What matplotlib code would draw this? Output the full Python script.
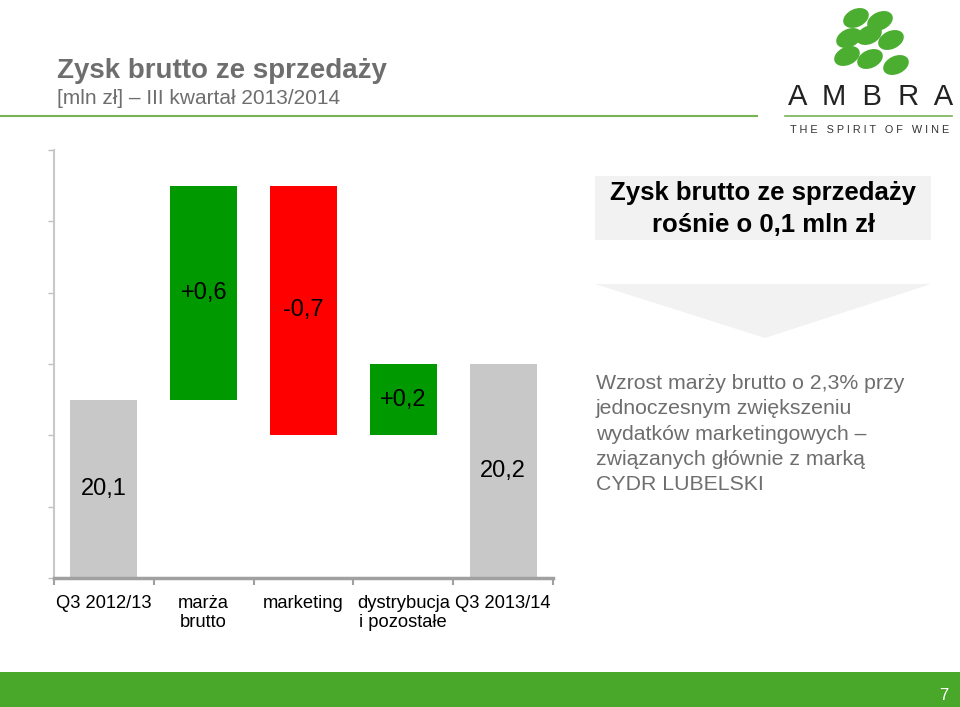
import numpy as np
import matplotlib
matplotlib.use("Agg")
import matplotlib.pyplot as plt
from matplotlib.patches import Rectangle, Polygon, Ellipse

plt.rcParams['font.family'] = ['Liberation Sans', 'DejaVu Sans']

# data
categories = ["Q3 2012/13", "marża\nbrutto", "marketing", "dystrybucja\ni pozostałe", "Q3 2013/14"]
values = [20.1, 0.6, -0.7, 0.2, 20.2]
kinds = ["total", "delta", "delta", "delta", "total"]
labels = ["20,1", "+0,6", "-0,7", "+0,2", "20,2"]
y_base = 19.6
y_top = 20.8

GRAY_BAR = "#c8c8c8"
UP = "#009900"
DOWN = "#ff0000"
TXT_GRAY = "#6e6e6e"
LINE_GREEN = "#77b255"
BAND_GREEN = "#49a72a"

fig = plt.figure(figsize=(9.6, 7.07), dpi=100)

# overlay for slide decorations, pixel coords
bg = fig.add_axes([0, 0, 1, 1])
bg.set_xlim(0, 960)
bg.set_ylim(707, 0)
bg.axis("off")

bg.text(57, 71, "Zysk brutto ze sprzedaży", fontsize=20, fontweight="bold",
        color=TXT_GRAY, va="center", ha="left")
bg.text(57, 99, "[mln zł] – III kwartał 2013/2014", fontsize=15,
        color=TXT_GRAY, va="center", ha="left")
bg.plot([0, 757], [115.5, 115.5], color=LINE_GREEN, lw=1.5)

# logo
for cx, cy in [(856, 18), (880, 21), (849, 38), (869, 35), (891, 40),
               (847, 56), (870, 59), (896, 65)]:
    bg.add_patch(Ellipse((cx, cy), 27, 18, angle=-25, color="#4cae31", lw=0))
bg.text(871, 97, "A  M  B  R  A", fontsize=21, ha="center", va="center",
        color="#222222", fontweight="light")
bg.plot([785, 952], [115.5, 115.5], color=LINE_GREEN, lw=1.2)
bg.text(870, 130, "T H E   S P I R I T   O F   W I N E", fontsize=7.8,
        ha="center", va="center", color="#333333")

# summary box
bg.add_patch(Rectangle((595, 176), 336, 64, color="#f2f2f2", lw=0))
bg.text(763, 209, "Zysk brutto ze sprzedaży\nrośnie o 0,1 mln zł", fontsize=18.5,
        fontweight="bold", ha="center", va="center", linespacing=1.45)
bg.add_patch(Polygon([(595, 284), (931, 284), (765, 338)], closed=True,
                     color="#f2f2f2", lw=0))
bg.text(596, 434, "Wzrost marży brutto o 2,3% przy\njednoczesnym zwiększeniu\n"
        "wydatków marketingowych –\nzwiązanych głównie z marką\nCYDR LUBELSKI",
        fontsize=15.3, color=TXT_GRAY, ha="left", va="center", linespacing=1.42)

# footer band
bg.add_patch(Rectangle((0, 672), 960, 35, color=BAND_GREEN, lw=0))
bg.text(944, 695, "7", fontsize=12, color="white", ha="center", va="center")

# waterfall chart
ax = fig.add_axes([54 / 960, 1 - 578 / 707, 499 / 960, 428 / 707])
ax.patch.set_alpha(0)
x = np.arange(len(categories))
running = 0.0
for i, (v, k, lab) in enumerate(zip(values, kinds, labels)):
    if k == "total":
        bottom, height, col = y_base, v - y_base, GRAY_BAR
        running = v
    else:
        bottom = running if v > 0 else running + v
        height = abs(v)
        col = UP if v > 0 else DOWN
        running += v
    ax.bar(x[i], height, bottom=bottom, width=0.67, color=col, lw=0)
    ax.text(x[i], bottom + height / 2, lab, fontsize=17, ha="center", va="center")

ax.set_xlim(-0.5, len(categories) - 0.5)
ax.set_ylim(y_base, y_top)
ax.set_yticks(np.arange(y_base, y_top + 0.01, 0.2))
ax.set_yticklabels([])
ax.set_xticks(x)
ax.set_xticklabels(categories, fontsize=13.2, linespacing=1.17)
ax.set_xticks(np.arange(-0.5, len(categories)), minor=True)
ax.tick_params(axis="x", which="major", length=0, pad=12)
ax.tick_params(axis="x", which="minor", length=5, width=1.5, color="#a0a0a0")
ax.tick_params(axis="y", length=4, width=1, color="#bfbfbf")
for s in ["top", "right"]:
    ax.spines[s].set_visible(False)
ax.spines["left"].set_color("#c8c8c8")
ax.spines["left"].set_linewidth(1.5)
ax.spines["bottom"].set_color("#a0a0a0")
ax.spines["bottom"].set_linewidth(2.5)

fig.savefig("out.png", dpi=100)
